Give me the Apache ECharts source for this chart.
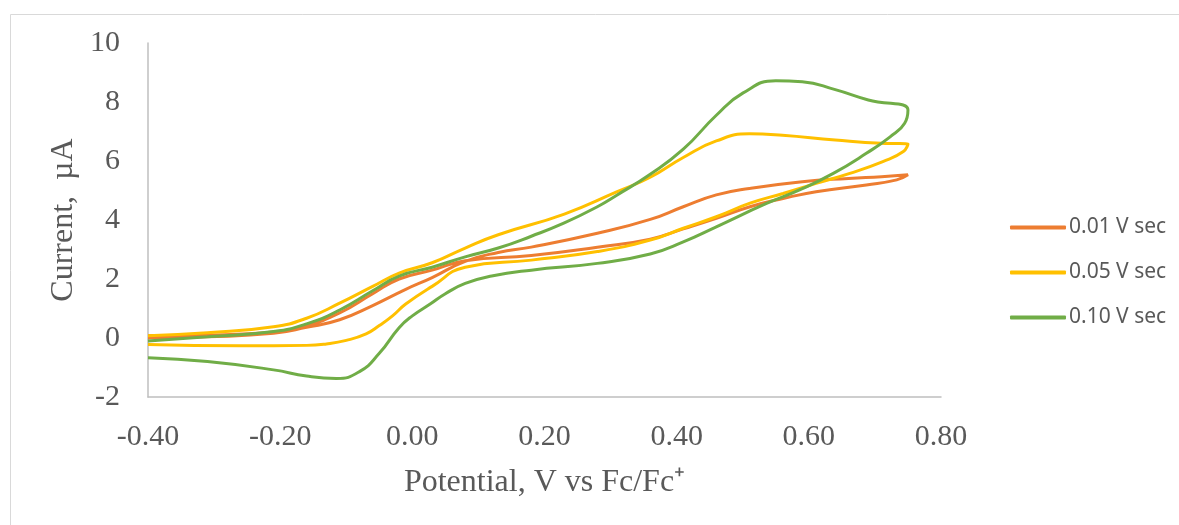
<!DOCTYPE html>
<html>
<head>
<meta charset="utf-8">
<script src="https://cdn.jsdelivr.net/npm/echarts@6/dist/echarts.min.js"></script>
<style>
  html, body { margin: 0; padding: 0; background: #fff; }
  #chart { width: 1179px; height: 525px; }
</style>
</head>
<body>
<div id="chart"></div>
<script>
// scan rates shown in the legend
const seriesNames = ["0.01 V sec", "0.05 V sec", "0.10 V sec"];

// 0.01 V/s loop (potential V, current uA), forward then back
const potential001 = [-0.40, -0.31, -0.21, -0.16, -0.11, -0.06, -0.01, 0.03, 0.08, 0.13, 0.18, 0.28, 0.36, 0.41, 0.46, 0.51, 0.59, 0.66, 0.71, 0.75,
  0.733, 0.687, 0.611, 0.561, 0.511, 0.46, 0.41, 0.36, 0.28, 0.18, 0.08, 0.03, -0.02, -0.06, -0.11, -0.16, -0.21, -0.31, -0.40];
const current001 = [0.00, 0.04, 0.16, 0.36, 0.62, 1.10, 1.65, 2.05, 2.60, 2.90, 3.08, 3.55, 4.02, 4.45, 4.85, 5.07, 5.30, 5.41, 5.47, 5.53,
  5.36, 5.19, 4.96, 4.73, 4.45, 4.06, 3.70, 3.35, 3.08, 2.80, 2.62, 2.30, 2.00, 1.50, 0.85, 0.42, 0.20, 0.10, 0.08];

// 0.05 V/s loop
const potential005 = [-0.40, -0.31, -0.21, -0.16, -0.11, -0.06, -0.02, 0.03, 0.08, 0.13, 0.23, 0.31, 0.36, 0.41, 0.46, 0.51, 0.56, 0.64, 0.71, 0.75,
  0.743, 0.712, 0.662, 0.611, 0.561, 0.511, 0.46, 0.41, 0.36, 0.28, 0.18, 0.08, 0.03, -0.01, -0.03, -0.05, -0.07, -0.10, -0.13, -0.16, -0.26, -0.40];
const current005 = [0.08, 0.18, 0.38, 0.67, 1.18, 1.75, 2.20, 2.55, 3.05, 3.50, 4.20, 4.96, 5.45, 6.12, 6.68, 6.92, 6.87, 6.71, 6.60, 6.58,
  6.32, 5.98, 5.58, 5.24, 4.90, 4.57, 4.11, 3.72, 3.32, 2.93, 2.64, 2.40, 1.75, 1.15, 0.75, 0.42, 0.14, -0.08, -0.20, -0.25, -0.26, -0.22];

// 0.10 V/s loop
const potential010 = [-0.40, -0.31, -0.21, -0.16, -0.11, -0.06, -0.02, 0.03, 0.08, 0.13, 0.18, 0.23, 0.28, 0.31, 0.36, 0.41, 0.46, 0.50, 0.55, 0.59, 0.64, 0.69, 0.75,
  0.745, 0.723, 0.687, 0.637, 0.586, 0.536, 0.46, 0.41, 0.36, 0.28, 0.18, 0.12, 0.08, 0.05, 0.027, 0.0, -0.02, -0.05, -0.08, -0.115, -0.16, -0.21, -0.31, -0.40];
const current010 = [-0.10, 0.04, 0.22, 0.48, 0.95, 1.60, 2.10, 2.40, 2.75, 3.05, 3.45, 3.90, 4.45, 4.85, 5.55, 6.40, 7.55, 8.30, 8.72, 8.69, 8.42, 8.07, 7.73,
  7.28, 6.82, 6.26, 5.58, 5.02, 4.56, 3.77, 3.26, 2.85, 2.53, 2.30, 2.10, 1.85, 1.50, 1.15, 0.75, 0.35, -0.52, -1.14, -1.37, -1.29, -1.08, -0.80, -0.67];

// axis ticks
const xTicks = [-0.40, -0.20, 0.00, 0.20, 0.40, 0.60, 0.80];
const yTicks = [-2, 0, 2, 4, 6, 8, 10];

const colors = ["#ED7D31", "#FFC000", "#70AD47"];
const loops = [
  [potential001, current001],
  [potential005, current005],
  [potential010, current010]
];

const chart = echarts.init(document.getElementById("chart"), null, { renderer: "canvas" });

const serif = "'Liberation Serif', 'Times New Roman', serif";

chart.setOption({
  animation: false,
  color: colors,
  graphic: [
    {
      type: "rect",
      left: 8,
      top: 12,
      shape: { width: 1200, height: 600 },
      style: { fill: "none", stroke: "#d9d9d9", lineWidth: 1 },
      silent: true
    }
  ],
  grid: {
    left: 148,
    right: 238,
    top: 43,
    bottom: 128,
    containLabel: false
  },
  legend: {
    orient: "vertical",
    left: 1005,
    top: 212,
    itemWidth: 56,
    itemHeight: 4,
    itemGap: 24,
    icon: "roundRect",
    data: seriesNames,
    textStyle: {
      fontFamily: "'Noto Sans', sans-serif",
      fontSize: 21,
      color: "#595959",
      padding: [0, 0, 0, -2]
    }
  },
  xAxis: {
    type: "value",
    min: xTicks[0],
    max: xTicks[xTicks.length - 1],
    interval: 0.2,
    name: "Potential, V vs Fc/Fc\u207A",
    nameLocation: "middle",
    nameGap: 70,
    nameTextStyle: { fontFamily: serif, fontSize: 32, color: "#595959" },
    axisLine: { onZero: false, lineStyle: { color: "#bfbfbf", width: 1.5 } },
    axisTick: { show: false },
    splitLine: { show: false },
    axisLabel: {
      margin: 25,
      fontFamily: serif,
      fontSize: 30,
      color: "#595959",
      formatter: v => v.toFixed(2)
    }
  },
  yAxis: {
    type: "value",
    min: yTicks[0],
    max: yTicks[yTicks.length - 1],
    interval: 2,
    name: "Current,  \u00B5A",
    nameLocation: "middle",
    nameGap: 61,
    nameTextStyle: { fontFamily: serif, fontSize: 32, color: "#595959" },
    axisLine: { show: true, onZero: false, lineStyle: { color: "#bfbfbf", width: 1.5 } },
    axisTick: { show: false },
    splitLine: { show: false },
    axisLabel: {
      margin: 28,
      fontFamily: serif,
      fontSize: 30,
      color: "#595959"
    }
  },
  series: loops.map((loop, k) => ({
    name: seriesNames[k],
    type: "line",
    data: loop[0].map((x, j) => [x, loop[1][j]]),
    smooth: 0.5,
    showSymbol: false,
    symbol: "none",
    lineStyle: { width: 3, color: colors[k] },
    itemStyle: { color: colors[k] }
  }))
});
</script>
</body>
</html>
